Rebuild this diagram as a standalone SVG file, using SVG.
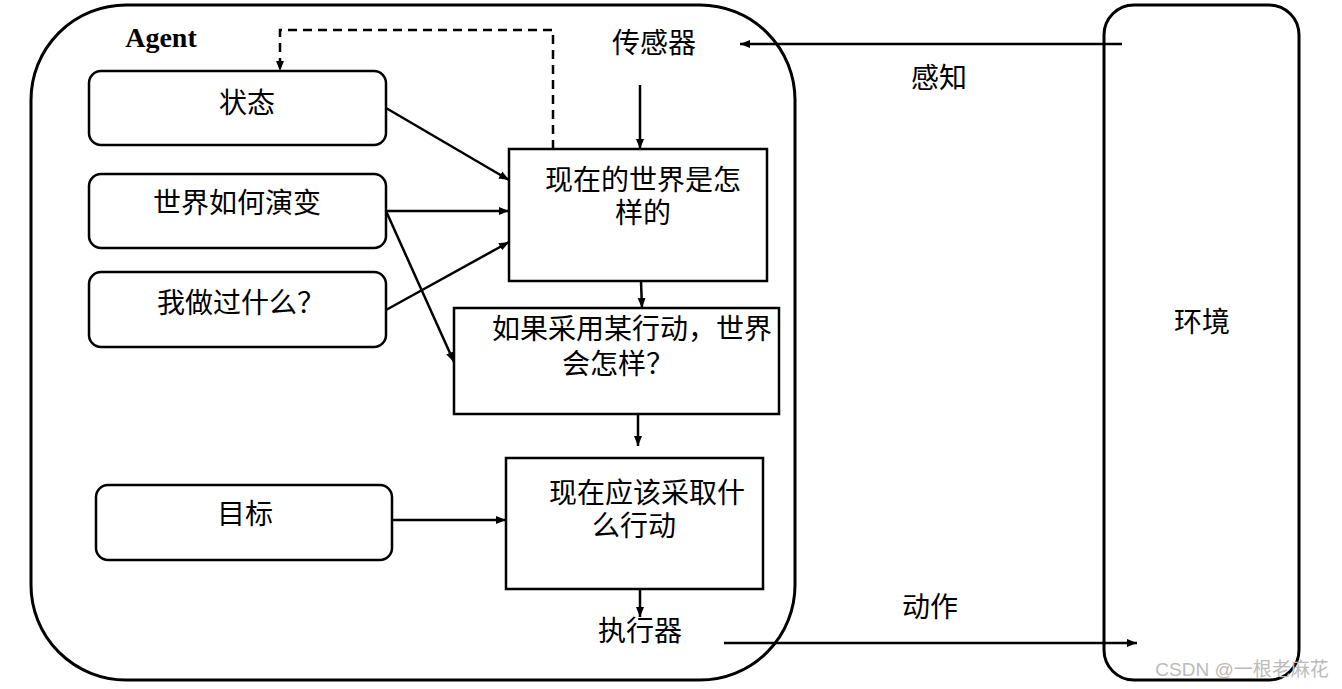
<svg xmlns="http://www.w3.org/2000/svg" width="1342" height="689" viewBox="0 0 1342 689">
<defs>
<marker id="ah" viewBox="0 0 10 10" refX="10" refY="5" markerWidth="10" markerHeight="10" markerUnits="userSpaceOnUse" orient="auto"><path d="M0,1 L10,5 L0,9 z" fill="#000"/></marker>
<style>
.frame{fill:none;stroke:#000;stroke-width:3}
.box{fill:#fff;stroke:#000;stroke-width:2.5}
.t{font-family:"Liberation Serif","Noto Sans CJK SC",serif;font-size:28px;fill:#000;text-anchor:middle}
.c{fill:none;stroke:#000;stroke-width:2.5;marker-end:url(#ah)}
</style>
</defs>
<rect width="1342" height="689" fill="#fff"/>
<g id="agent"><rect class="frame" x="31" y="5" width="764" height="675" rx="95"/><text x="161" y="47" style="font-family:'Liberation Serif',serif;font-size:28px;font-weight:bold;text-anchor:middle">Agent</text></g>
<g id="env"><rect class="frame" x="1104" y="5" width="195" height="675" rx="30"/><text class="t" x="1202" y="332">环境</text></g>
<g id="sensor"><text class="t" x="654" y="53">传感器</text></g>
<g id="actuator"><text class="t" x="640" y="641">执行器</text></g>
<g id="perceive"><text class="t" x="939" y="88">感知</text></g>
<g id="action"><text class="t" x="930" y="617">动作</text></g>
<g id="state"><rect class="box" x="89" y="71" width="297" height="74" rx="12"/><text class="t" x="247" y="113">状态</text></g>
<g id="evolve"><rect class="box" x="89" y="174" width="297" height="74" rx="12"/><text class="t" x="237" y="213">世界如何演变</text></g>
<g id="done"><rect class="box" x="89" y="272" width="297" height="75" rx="12"/><text class="t" x="241" y="313">我做过什么？</text></g>
<g id="goal"><rect class="box" x="96" y="485" width="296" height="75" rx="12"/><text class="t" x="245" y="524">目标</text></g>
<g id="now"><rect class="box" x="509" y="149" width="258" height="132"/><text class="t" x="643" y="190">现在的世界是怎</text><text class="t" x="643" y="223">样的</text></g>
<g id="whatif"><rect class="box" x="454" y="308" width="325" height="106"/><text class="t" x="632" y="339">如果采用某行动，世界</text><text class="t" x="618" y="374">会怎样？</text></g>
<g id="todo"><rect class="box" x="506" y="458" width="257" height="131"/><text class="t" x="647" y="503">现在应该采取什</text><text class="t" x="634" y="536">么行动</text></g>
<g id="connectors">
<path class="c" d="M1122,44 L740,44"/>
<path class="c" d="M640,85 L640,149"/>
<path class="c" d="M553,149 L553,30 L280,30 L280,71" stroke-dasharray="9,6"/>
<path class="c" d="M386,108 L509,180"/>
<path class="c" d="M386,211 L509,211"/>
<path class="c" d="M386,211 L454,362"/>
<path class="c" d="M386,310 L509,242"/>
<path class="c" d="M641,281 L642,308"/>
<path class="c" d="M638,414 L638,446"/>
<path class="c" d="M392,520 L506,520"/>
<path class="c" d="M640,589 L640,617"/>
<path class="c" d="M724,643 L1137,643"/>
</g>
<text x="1242" y="676" style="font-family:'Liberation Sans','Noto Sans CJK SC',sans-serif;font-size:19px;fill:#bbb;text-anchor:middle">CSDN @一根老麻花</text>
</svg>
